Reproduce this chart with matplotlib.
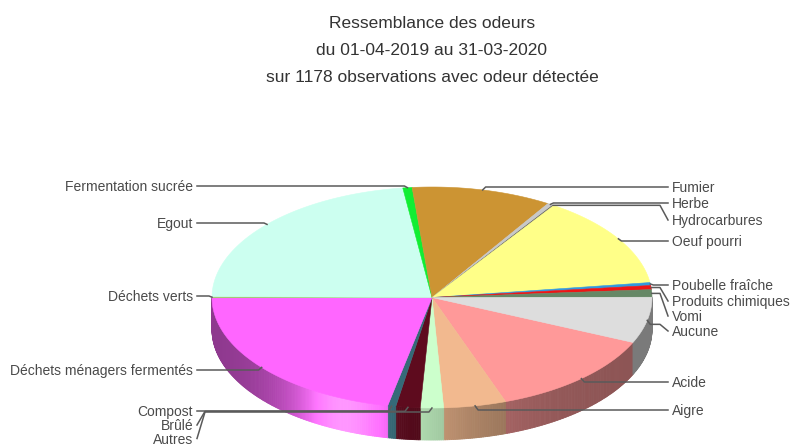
import numpy as np
import matplotlib.pyplot as plt
from matplotlib.patches import Polygon
from matplotlib.collections import PolyCollection
import matplotlib.colors as mcolors

plt.rcParams['font.family'] = ['Liberation Sans', 'DejaVu Sans']

# données (dans l'ordre du tracé, sens horaire)
categories = ['Acide', 'Aigre', 'Autres', 'Brûlé', 'Compost',
              'Déchets ménagers fermentés', 'Déchets verts', 'Egout',
              'Fermentation sucrée', 'Fumier', 'Herbe', 'Hydrocarbures',
              'Oeuf pourri', 'Poubelle fraîche', 'Produits chimiques',
              'Vomi', 'Aucune']
counts = [152, 54, 20, 21, 7, 256, 2, 268, 8, 121, 5, 1, 159, 5, 7, 13, 79]
colors = ['#ff9999', '#f2b98f', '#ccffcc', '#5e0b1e', '#356a78',
          '#ff66ff', '#99cc66', '#ccfff0', '#11ee33', '#cc9433',
          '#c8c8c8', '#606060', '#ffff88', '#3399dd', '#ee1515',
          '#668866', '#dddddd']
label_side = ['R', 'R', 'L', 'L', 'L', 'L', 'L', 'L', 'L',
              'R', 'R', 'R', 'R', 'R', 'R', 'R', 'R']
label_y = [382, 410, 438.5, 425, 411, 370, 296, 223, 186,
           187, 203, 220, 241, 285, 301, 316, 331]

titre = ['Ressemblance des odeurs',
         'du 01-04-2019 au 31-03-2020',
         'sur 1178 observations avec odeur détectée']

# géométrie (pixels)
cx, cy = 432, 297.5
rx, ry = 220, 110.5
depth = 32
start = -24.0

fig = plt.figure(figsize=(7.9, 4.47), dpi=100)
ax = fig.add_axes([0, 0, 1, 1])
ax.set_xlim(0, 790)
ax.set_ylim(447, 0)
ax.axis('off')


def pt(a):
    r = np.radians(a)
    return cx + rx * np.cos(r), cy - ry * np.sin(r)


def shade(u):
    # u = cos(angle), -1 à gauche, 1 à droite
    w = np.where(u < -0.4, 0.3, 0.6)
    g = np.exp(-((u + 0.4) / w) ** 2)
    f = 0.55 + 0.42 * g
    h = 0.2 * np.exp(-((u + 0.4) / 0.15) ** 2)
    return f, h


total = sum(counts)
angles = []
a = start
for c in counts:
    span = c / total * 360
    angles.append((a, a - span))
    a -= span

# côtés
quads, qcols = [], []
for (a0, a1), col in zip(angles, colors):
    base = np.array(mcolors.to_rgb(col))
    n = max(2, int(abs(a0 - a1) / 0.5) + 1)
    ts = np.linspace(a0, a1, n)
    for t0, t1 in zip(ts[:-1], ts[1:]):
        tm = (t0 + t1) / 2
        if np.sin(np.radians(tm)) >= 0:
            continue
        x0, y0 = pt(t0)
        x1, y1 = pt(t1)
        quads.append([(x0, y0), (x1, y1), (x1, y1 + depth), (x0, y0 + depth)])
        f, h = shade(np.cos(np.radians(tm)))
        c = np.clip(base * f + h, 0, 1)
        qcols.append(c)
ax.add_collection(PolyCollection(quads, facecolors=qcols, edgecolors=qcols,
                                 linewidths=0.6, zorder=1))

# dessus
for (a0, a1), col in zip(angles, colors):
    ts = np.linspace(a0, a1, max(3, int(abs(a0 - a1) * 2)))
    pts = [(cx, cy)] + [pt(t) for t in ts]
    ax.add_patch(Polygon(pts, closed=True, facecolor=col, edgecolor=col,
                         lw=0.4, zorder=2))

# étiquettes
lc = '#5a5a5a'
for name, (a0, a1), side, ly in zip(categories, angles, label_side, label_y):
    ax_, ay = pt((a0 + a1) / 2)
    s = 1 if side == 'R' else -1
    end_x = 668 if side == 'R' else 197
    bend_x = end_x - s * 8
    if abs(ly - ay) < 8:
        hy = ly
    else:
        hy = ay + (4 if ay > cy else 0)
    xs = [ax_, ax_ + s * 3, bend_x, end_x]
    ys = [ay, hy, hy, ly]
    ax.plot(xs, ys, color=lc, lw=1.1, zorder=3, solid_joinstyle='round')
    ax.text(end_x + s * 4, ly + 1, name, ha='left' if side == 'R' else 'right',
            va='center', fontsize=10, color='#4a4a4a', zorder=4)

for i, t in enumerate(titre):
    ax.text(432, 23 + i * 27.5, t, ha='center', va='center', fontsize=12.5,
            color='#333333')

fig.savefig('out.png', dpi=100)
